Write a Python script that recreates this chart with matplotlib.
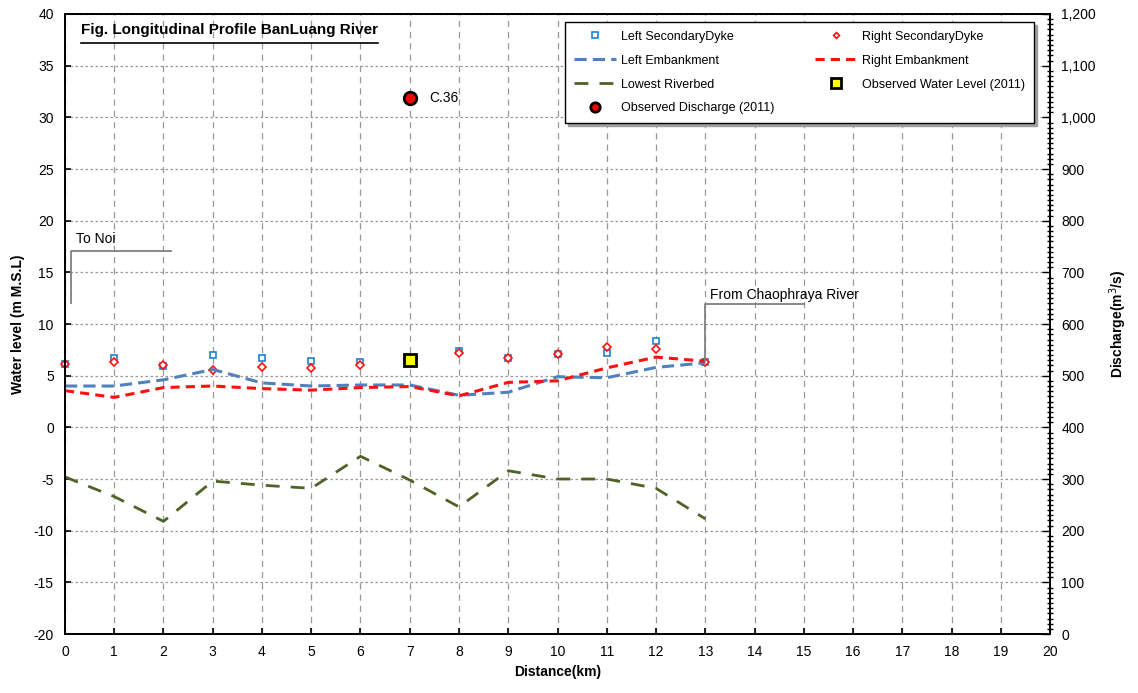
import matplotlib
matplotlib.use("Agg")
import matplotlib.pyplot as plt
import matplotlib.ticker as mticker

plt.rcParams['font.family'] = ['Liberation Sans', 'DejaVu Sans']
plt.rcParams['axes.unicode_minus'] = False

# Distance (km)
dist = [0, 1, 2, 3, 4, 5, 6, 7, 8, 9, 10, 11, 12, 13]
dyke_x = [0, 1, 2, 3, 4, 5, 6, 8, 9, 10, 11, 12, 13]

left_dyke = [6.1, 6.7, 5.9, 7.0, 6.75, 6.45, 6.35, 7.4, 6.75, 7.05, 7.15, 8.35, 6.3]
right_dyke = [6.1, 6.3, 6.05, 5.55, 5.85, 5.7, 6.05, 7.2, 6.75, 7.05, 7.8, 7.6, 6.3]

left_emb = [4.0, 4.0, 4.6, 5.6, 4.3, 4.0, 4.1, 4.1, 3.1, 3.4, 4.9, 4.8, 5.8, 6.25]
right_emb = [3.55, 2.9, 3.85, 4.0, 3.75, 3.6, 3.85, 3.95, 3.05, 4.35, 4.5, 5.75, 6.8, 6.4]
riverbed = [-4.8, -6.7, -9.1, -5.2, -5.6, -5.9, -2.8, -5.1, -7.7, -4.2, -5.0, -5.0, -5.9, -8.85]

obs_wl_x = [7]
obs_wl = [6.5]
obs_q_x = [7]
obs_q = [1037]
obs_q_label = "C.36"

fig = plt.figure(figsize=(11.38, 6.93), dpi=100)
ax = fig.add_axes([0.0571, 0.0851, 0.8656, 0.8947])
ax2 = ax.twinx()

# grid
ax.xaxis.grid(True, color="#999999", linestyle=(0, (5, 4)), linewidth=0.9)
ax.yaxis.grid(True, color="#999999", linestyle=(0, (2, 2)), linewidth=0.9)
ax.set_axisbelow(True)

h1, = ax.plot(dyke_x, left_dyke, linestyle="none", marker="s", markersize=5,
              markerfacecolor="white", markeredgecolor="#2080d0", markeredgewidth=1.2,
              label="Left SecondaryDyke", clip_on=False)
h2, = ax.plot(dyke_x, right_dyke, linestyle="none", marker="D", markersize=4,
              markerfacecolor="white", markeredgecolor="#ff1010", markeredgewidth=1.2,
              label="Right SecondaryDyke", clip_on=False)
h3, = ax.plot(dist, left_emb, color="#4f81bd", linestyle=(0, (4, 2)), linewidth=2.2,
              label="Left Embankment")
h4, = ax.plot(dist, right_emb, color="#ff1010", linestyle=(0, (3, 2)), linewidth=2.2,
              label="Right Embankment")
h5, = ax.plot(dist, riverbed, color="#4f6228", linestyle=(0, (5, 4)), linewidth=2.0,
              label="Lowest Riverbed")
h6, = ax.plot(obs_wl_x, obs_wl, linestyle="none", marker="s", markersize=9,
              markerfacecolor="#ffff00", markeredgecolor="black", markeredgewidth=2,
              label="Observed Water Level (2011)")
h7, = ax2.plot(obs_q_x, obs_q, linestyle="none", marker="o", markersize=9,
               markerfacecolor="#ff0000", markeredgecolor="black", markeredgewidth=2,
               label="Observed Discharge (2011)", zorder=5)
ax2.annotate(obs_q_label, (obs_q_x[0], obs_q[0]), xytext=(14, 0), textcoords="offset points",
             va="center", fontsize=10)

# boundary annotations
ax.plot([0.12, 0.12, 2.15], [12.0, 17.1, 17.1], color="#808080", linewidth=1.3)
ax.text(0.22, 17.8, "To Noi", fontsize=10)
ax.plot([13, 13, 15.0], [6.4, 11.9, 11.9], color="#808080", linewidth=1.3)
ax.text(13.1, 12.4, "From Chaophraya River", fontsize=10)

ax.set_xlim(0, 20)
ax.set_ylim(-20, 40)
ax2.set_ylim(0, 1200)
ax.set_xticks(range(0, 21))
ax.set_yticks(range(-20, 41, 5))
ax2.set_yticks(range(0, 1201, 100))
ax2.yaxis.set_major_formatter(mticker.FuncFormatter(lambda v, p: f"{int(v):,}"))
ax2.yaxis.set_minor_locator(mticker.MultipleLocator(10))

ax.tick_params(direction="in", length=4, width=1.2, labelsize=10, pad=8)
ax2.tick_params(which="major", direction="in", length=6, width=1.0, labelsize=10, pad=8)
ax2.tick_params(which="minor", direction="inout", length=4, width=1.0)

for sp in ax.spines.values():
    sp.set_linewidth(1.3)
for sp in ax2.spines.values():
    sp.set_linewidth(1.3)

ax.set_xlabel("Distance(km)", fontsize=10, fontweight="bold", labelpad=4)
ax.set_ylabel("Water level (m M.S.L)", fontsize=10, fontweight="bold", labelpad=6)
ax2.set_ylabel("Discharge(m$^3$/s)", fontsize=10, fontweight="bold", labelpad=8)

ax.text(0.016, 0.985, "Fig. Longitudinal Profile BanLuang River", transform=ax.transAxes,
        fontsize=11, fontweight="bold", va="top", ha="left")
# underline
ax.plot([0.016, 0.318], [0.954, 0.954], transform=ax.transAxes, color="black",
        linewidth=1.2, clip_on=False)

# column-major order so rows read like the reference
handles = [h1, h3, h5, h7, h2, h4, h6]
leg = ax2.legend(handles=handles, loc="upper right", bbox_to_anchor=(0.99, 0.997), ncol=2,
                 fontsize=9, frameon=True, fancybox=False, shadow={"color": "#a0a0a0", "alpha": 1},
                 edgecolor="black", framealpha=1, columnspacing=3.2, handlelength=3.4,
                 handletextpad=0.4, labelspacing=0.95, borderpad=0.7, markerscale=0.75)
leg.get_frame().set_linewidth(1.0)

fig.savefig("out.png", dpi=100)
